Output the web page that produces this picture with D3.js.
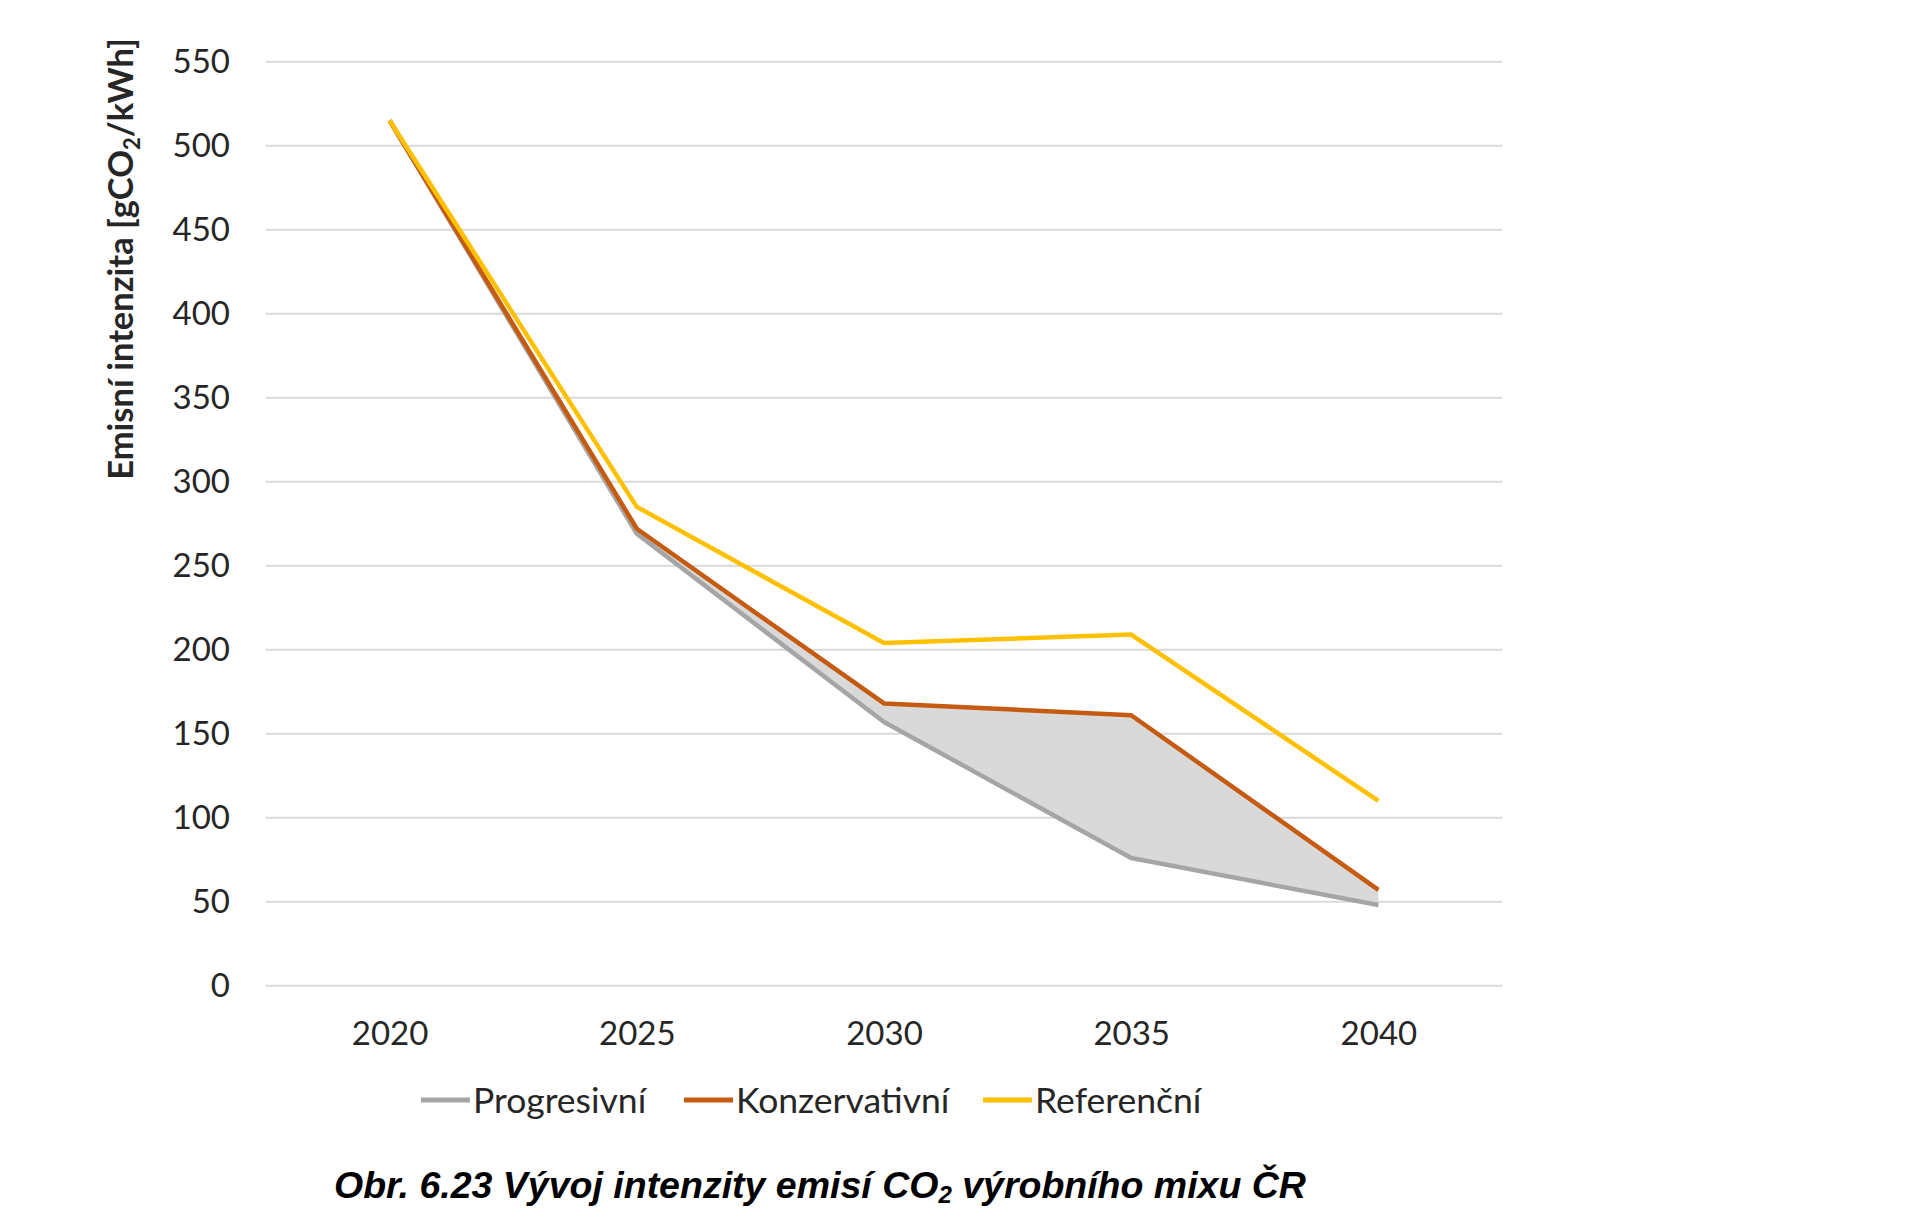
<!DOCTYPE html>
<html lang="cs">
<head>
    <meta charset="UTF-8">
    <title>Vývoj intenzity emisí CO2</title>
    <script src="https://d3js.org/d3.v7.min.js"></script>
    <style>
        body{ margin:0; background:#fff; }
        .tick text{ font-family: Lato, "Open Sans", sans-serif; fill:#262626; }
        .grid line{ stroke:#d9d9d9; stroke-width:2; }
    </style>
</head>
<body>
<script>
    // data
    const years = ["2020", "2025", "2030", "2035", "2040"];
    const progresivni   = [515, 269, 157, 76, 48];
    const konzervativni = [515, 272, 168, 161, 57];
    const referencni    = [515, 285, 204, 209, 110];
    const yTicks = [0, 50, 100, 150, 200, 250, 300, 350, 400, 450, 500, 550];
    const seriesNames = ["Progresivní", "Konzervativní", "Referenční"];
    const seriesColors = ["#a5a5a5", "#c55a11", "#ffc000"];

    const width = 1920;
    const height = 1225;
    const plot = {left: 266, right: 1502, top: 61.7, bottom: 985.7};

    const svg = d3.select("body").append("svg")
        .attr("width", width).attr("height", height)
        .attr("viewBox", `0 0 ${width} ${height}`)

    svg.append("rect").attr("width", width).attr("height", height).attr("fill", "#fff")

    const x = d3.scalePoint()
        .domain(years)
        .range([plot.left, plot.right])
        .padding(0.5)

    const y = d3.scaleLinear()
        .domain([0, 550])
        .range([plot.bottom, plot.top])

    // horizontal grid
    svg.append("g")
        .attr("class", "grid")
        .selectAll("line")
        .data(yTicks)
        .enter()
        .append("line")
        .attr("x1", plot.left).attr("x2", plot.right)
        .attr("y1", d => y(d)).attr("y2", d => y(d))

    // y axis labels
    const yAxis = svg.append("g")
        .attr("transform", `translate(${plot.left},0)`)
        .call(d3.axisLeft(y).tickValues(yTicks).tickSize(0).tickPadding(36))
    yAxis.select(".domain").remove()
    yAxis.selectAll("text").attr("font-size", 33).attr("dy", "0.34em")

    // x axis labels
    const xAxis = svg.append("g")
        .attr("transform", `translate(0,${plot.bottom})`)
        .call(d3.axisBottom(x).tickSize(0).tickPadding(36))
    xAxis.select(".domain").remove()
    xAxis.selectAll("text").attr("font-size", 33)

    // shaded band between progresivní and konzervativní
    const band = years.map((yr, i) => ({year: yr, lo: progresivni[i], hi: konzervativni[i]}))
    svg.append("path")
        .datum(band)
        .attr("fill", "#d9d9d9")
        .attr("d", d3.area()
            .x(d => x(d.year))
            .y0(d => y(d.lo))
            .y1(d => y(d.hi)))

    const allSeries = [progresivni, konzervativni, referencni];
    const line = d3.line()
        .x((d, i) => x(years[i]))
        .y(d => y(d))

    allSeries.forEach((s, k) => {
        svg.append("path")
            .datum(s)
            .attr("fill", "none")
            .attr("stroke", seriesColors[k])
            .attr("stroke-width", 4.5)
            .attr("stroke-linejoin", "round")
            .attr("d", line)
    })

    // y axis title
    const yTitle = svg.append("text")
        .attr("transform", `translate(133,259) rotate(-90)`)
        .attr("text-anchor", "middle")
        .attr("font-family", "Lato, 'Open Sans', sans-serif")
        .attr("font-weight", "bold")
        .attr("font-size", 34.5)
        .attr("fill", "#262626")
    yTitle.append("tspan").text("Emisní intenzita [gCO")
    yTitle.append("tspan").attr("font-size", 22).attr("dy", 7).text("2")
    yTitle.append("tspan").attr("dy", -7).text("/kWh]")

    // legend
    const legendX = [421, 684, 983];
    const legend = svg.append("g")
        .selectAll("g")
        .data(seriesNames)
        .enter()
        .append("g")
        .attr("transform", (d, i) => `translate(${legendX[i]},1100)`)
    legend.append("line")
        .attr("x1", 0).attr("x2", 49)
        .attr("stroke", (d, i) => seriesColors[i])
        .attr("stroke-width", 5)
    legend.append("text")
        .attr("x", 52)
        .attr("dy", "0.36em")
        .attr("font-family", "Lato, 'Open Sans', sans-serif")
        .attr("font-size", 35.5)
        .attr("fill", "#262626")
        .text(d => d)

    // caption
    const caption = svg.append("text")
        .attr("x", 334)
        .attr("y", 1198)
        .attr("font-family", "'Liberation Sans', Arial, sans-serif")
        .attr("font-weight", "bold")
        .attr("font-style", "italic")
        .attr("font-size", 37.5)
        .attr("fill", "#000")
    caption.append("tspan").text("Obr. 6.23 Vývoj intenzity emisí CO")
    caption.append("tspan").attr("font-size", 24).attr("dy", 5).text("2")
    caption.append("tspan").attr("dy", -5).text(" výrobního mixu ČR")
</script>
</body>
</html>
